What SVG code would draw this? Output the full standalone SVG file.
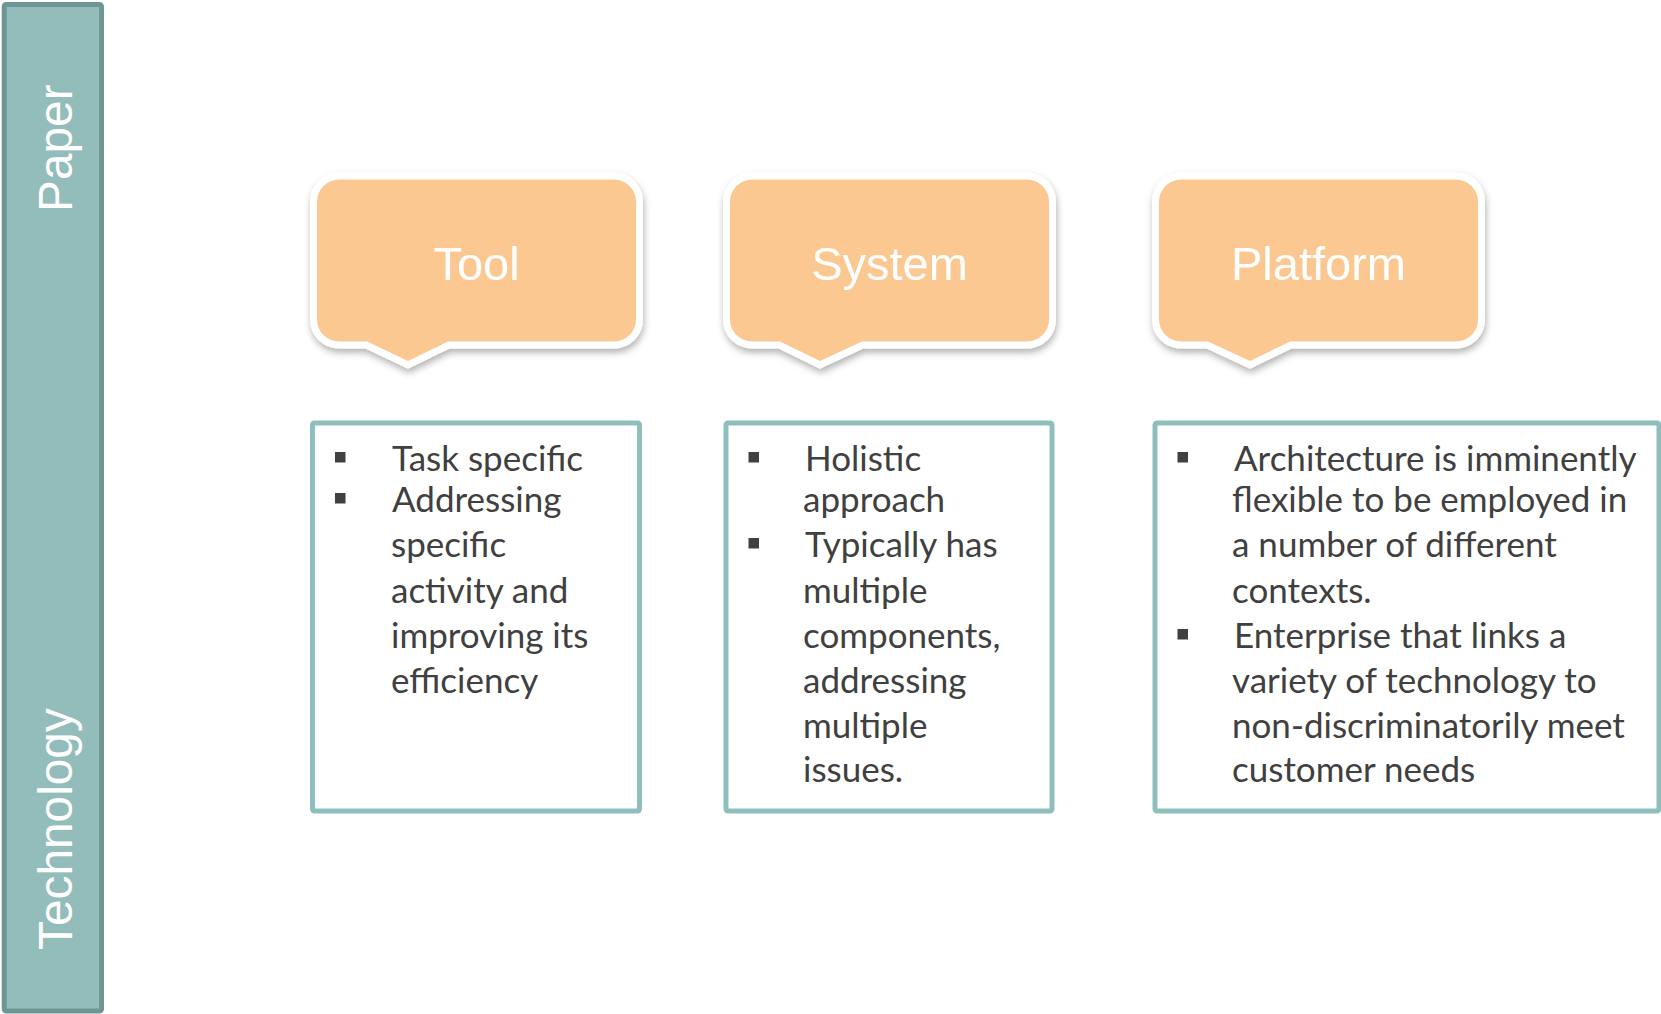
<svg xmlns="http://www.w3.org/2000/svg" width="1661" height="1014" viewBox="0 0 1661 1014">
<defs>
<style>
.bar{fill:#93BDBB;stroke:#6E9694;stroke-width:5}
.barlbl{font-family:"Liberation Sans",Arial,sans-serif;font-size:47.8px;fill:#FFFFFF}
.callout{fill:#FCC891;stroke:#FFFFFF;stroke-width:14;stroke-linejoin:miter;paint-order:stroke}
.ctitle{font-family:"Liberation Sans",Arial,sans-serif;font-size:47px;fill:#FFFFFF;text-anchor:middle}
.box{fill:#FFFFFF;stroke:#8FBFBC;stroke-width:5}
.txt{font-family:Lato,"Open Sans",sans-serif;font-size:35px;fill:#404040}
.bul{fill:#404040}
</style>
<filter id="shadow" x="-10%" y="-10%" width="120%" height="130%">
<feDropShadow dx="1" dy="4" stdDeviation="3.5" flood-color="#000000" flood-opacity="0.3"/>
</filter>
</defs>
<rect width="1661" height="1014" fill="#FFFFFF"/>

<g id="side-bar">
<rect class="bar" x="4.2" y="4.5" width="97.3" height="1006.5" rx="2"/>
<text class="barlbl" transform="translate(72,212) rotate(-90)">Paper</text>
<text class="barlbl" transform="translate(72,950) rotate(-90)">Technology</text>
</g>

<g id="connectors"></g>

<g id="tool-callout" filter="url(#shadow)">
<path class="callout" d="M339,179.5 H614 A22,22 0 0 1 636,201.5 V319.5 A22,22 0 0 1 614,341.5 H448 L408,361 L367,341.5 H339 A22,22 0 0 1 317,319.5 V201.5 A22,22 0 0 1 339,179.5 Z"/>
<text class="ctitle" x="476.5" y="280">Tool</text>
</g>

<g id="system-callout" filter="url(#shadow)">
<path class="callout" d="M752,179.5 H1027 A22,22 0 0 1 1049,201.5 V319.5 A22,22 0 0 1 1027,341.5 H862 L820,361 L780,341.5 H752 A22,22 0 0 1 730,319.5 V201.5 A22,22 0 0 1 752,179.5 Z"/>
<text class="ctitle" x="889.5" y="280">System</text>
</g>

<g id="platform-callout" filter="url(#shadow)">
<path class="callout" d="M1181,179.5 H1456 A22,22 0 0 1 1478,201.5 V319.5 A22,22 0 0 1 1456,341.5 H1290 L1250,361 L1208,341.5 H1181 A22,22 0 0 1 1159,319.5 V201.5 A22,22 0 0 1 1181,179.5 Z"/>
<text class="ctitle" x="1318.5" y="280">Platform</text>
</g>

<g id="tool-box">
<rect class="box" x="312.5" y="423" width="327" height="388" rx="2"/>
<rect class="bul" x="335" y="452" width="10.5" height="10.5"/>
<rect class="bul" x="335" y="493" width="10.5" height="10.5"/>
<text class="txt" x="392" y="471">Task specific</text>
<text class="txt" x="392" y="512">Addressing</text>
<text class="txt" x="391" y="557">specific</text>
<text class="txt" x="391" y="602.5">activity and</text>
<text class="txt" x="391" y="648">improving its</text>
<text class="txt" x="391" y="693">efficiency</text>
</g>

<g id="system-box">
<rect class="box" x="726" y="423" width="326" height="388" rx="2"/>
<rect class="bul" x="748.5" y="452" width="10.5" height="10.5"/>
<rect class="bul" x="748.5" y="538" width="10.5" height="10.5"/>
<text class="txt" x="805" y="471">Holistic</text>
<text class="txt" x="803" y="512">approach</text>
<text class="txt" x="805" y="557">Typically has</text>
<text class="txt" x="803" y="602.5">multiple</text>
<text class="txt" x="803" y="648">components,</text>
<text class="txt" x="803" y="693">addressing</text>
<text class="txt" x="803" y="738">multiple</text>
<text class="txt" x="803" y="782">issues.</text>
</g>

<g id="platform-box">
<rect class="box" x="1155" y="423" width="504" height="388" rx="2"/>
<rect class="bul" x="1177.5" y="452" width="10.5" height="10.5"/>
<rect class="bul" x="1177.5" y="629" width="10.5" height="10.5"/>
<text class="txt" x="1234" y="471">Architecture is imminently</text>
<text class="txt" x="1232" y="512">flexible to be employed in</text>
<text class="txt" x="1232" y="557">a number of different</text>
<text class="txt" x="1232" y="602.5">contexts.</text>
<text class="txt" x="1234" y="648">Enterprise that links a</text>
<text class="txt" x="1232" y="693">variety of technology to</text>
<text class="txt" x="1232" y="738">non-discriminatorily meet</text>
<text class="txt" x="1232" y="782">customer needs</text>
</g>
</svg>
